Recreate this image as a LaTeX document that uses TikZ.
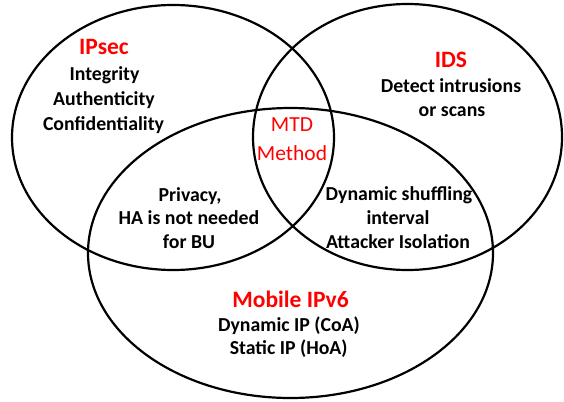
\documentclass[tikz,border=0pt]{standalone}
\usepackage{fontspec}
\setmainfont{Carlito}
\tikzset{
  venn/.style={draw=black, line width=2.2pt},
  body/.style={anchor=base, inner sep=0pt, font=\bfseries\fontsize{19.8}{24}\selectfont, text=black},
  title/.style={anchor=base, inner sep=0pt, font=\bfseries\fontsize{23.5}{28}\selectfont, text=red},
  mtd/.style={anchor=base, inner sep=0pt, font=\fontsize{21.5}{26}\selectfont, text=red}
}
\begin{document}
\begin{tikzpicture}[x=1pt,y=-1pt]
\useasboundingbox (0,0) rectangle (564,401);
\fill[white] (0,0) rectangle (564,401);
% circles
\draw[venn] (173,137.5) ellipse [x radius=161pt, y radius=132.5pt];
\draw[venn] (407.5,137) ellipse [x radius=154.5pt, y radius=133pt];
\draw[venn] (290.5,253) ellipse [x radius=202.5pt, y radius=145pt];
% IPsec
\node[title] (ipsec) at (104,55) {IPsec};
\node[body] (integ) at (104.5,81) {Integrity};
\node[body] (auth) at (104,106) {Authenticity};
\node[body] (conf) at (103.5,130) {Confidentiality};
% IDS
\node[title] (ids) at (451,68) {IDS};
\node[body] (detect) at (451,93) {Detect intrusions};
\node[body] (scans) at (452,117) {or scans};
% MTD
\node[mtd] (mtd1) at (292,131) {MTD};
\node[mtd] (mtd2) at (292,160) {Method};
% IPsec & Mobile
\node[body] (priv) at (190,201) {Privacy,};
\node[body] (ha) at (189,224) {HA is not needed};
\node[body] (bu) at (189,248) {for BU};
% IDS & Mobile
\node[body] (dyn) at (399,200) {Dynamic shuffling};
\node[body] (interval) at (398,224) {interval};
\node[body] (att) at (398,248) {Attacker Isolation};
% Mobile IPv6
\node[title] (mob) at (290.5,307) {Mobile IPv6};
\node[body] (coa) at (289,331) {Dynamic IP (CoA)};
\node[body] (hoa) at (288.7,354) {Static IP (HoA)};
\end{tikzpicture}
\end{document}
